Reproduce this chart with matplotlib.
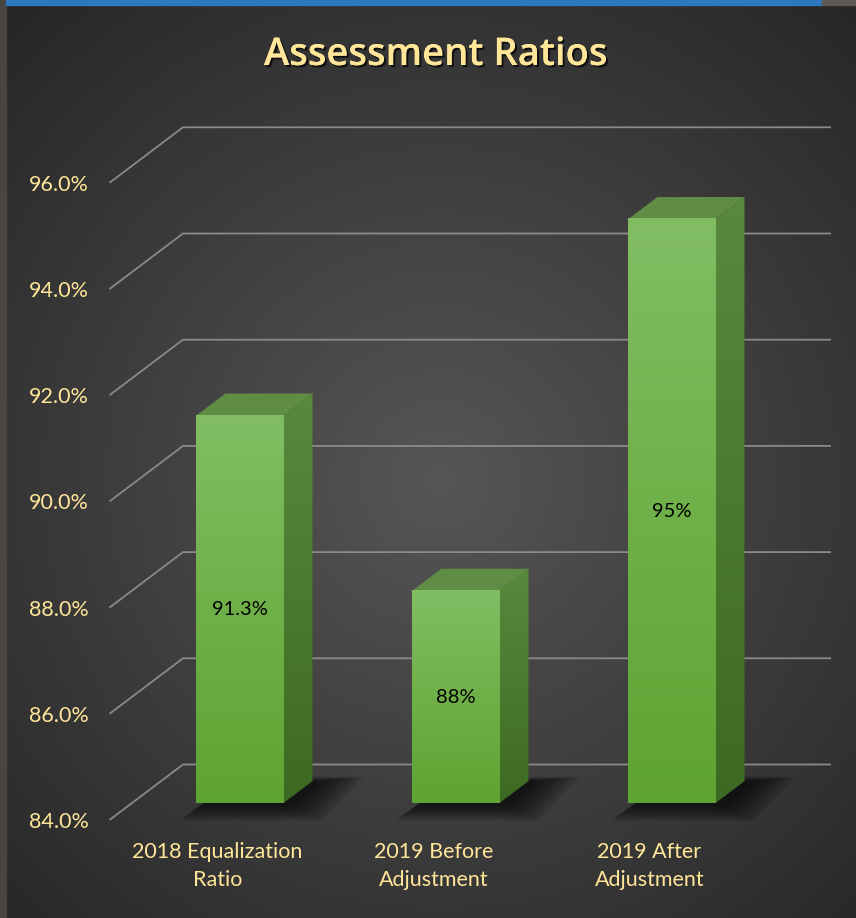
import numpy as np
import matplotlib
matplotlib.use('Agg')
import matplotlib.pyplot as plt
import matplotlib.patheffects as pe
from matplotlib.patches import Polygon, Rectangle
from matplotlib.colors import LinearSegmentedColormap

plt.rcParams['font.family'] = ['Lato', 'DejaVu Sans']

categories = ['2018 Equalization\nRatio', '2019 Before\nAdjustment', '2019 After\nAdjustment']
values = [91.3, 88.0, 95.0]
value_labels = ['91.3%', '88%', '95%']
y_ticks = [84, 86, 88, 90, 92, 94, 96]
y_tick_labels = ['84.0%', '86.0%', '88.0%', '90.0%', '92.0%', '94.0%', '96.0%']

TXT = '#FFE699'
GRID = '#8a8a8a'

# depth of the fake 3d box, in data units (category, percent)
DXc = 73.5 / 216
DYv = 55.5 / 53.1
W = 0.403          # bar width
D0, D1 = 0.3, 0.7  # bar depth span (0 = front, 1 = back wall)


def pt(x, y, d):
    return (x + d * DXc, y + d * DYv)


fig = plt.figure(figsize=(8.56, 9.18), dpi=100)

# radial gradient background
bg = fig.add_axes([0, 0, 1, 1])
yy, xx = np.mgrid[0:918, 0:856]
r = np.sqrt((xx - 440) ** 2 + (yy - 480) ** 2) / 640
c = 0x56 - (0x56 - 0x26) * np.clip(r, 0, 1)
img = np.dstack([c, c, c]) / 255
bg.imshow(img, extent=(0, 1, 0, 1), aspect='auto', origin='upper')
bg.axis('off')

# frame bits at the top/left edge
fig.patches.append(Rectangle((0, 0), 6 / 856, 1, transform=fig.transFigure, color='#4a4540', zorder=5))
fig.patches.append(Rectangle((6 / 856, 1 - 5 / 918), 816 / 856, 5 / 918, transform=fig.transFigure,
                             color='#2e78c0', zorder=5))
fig.patches.append(Rectangle((822 / 856, 1 - 5 / 918), 34 / 856, 5 / 918, transform=fig.transFigure,
                             color='#5f5a55', zorder=5))

ax = fig.add_axes([109.5 / 856, 98 / 918, 648 / 856, 637.2 / 918])
ax.set_facecolor('none')
for s in ax.spines.values():
    s.set_visible(False)

x_lo, x_hi = -0.5, 2.5

# grid: side diagonal + back wall line
for t in y_ticks:
    a = pt(x_lo, t, 0)
    b = pt(x_lo, t, 1)
    e = pt(x_hi, t, 1)
    ax.plot([a[0], b[0], e[0]], [a[1], b[1], e[1]], color=GRID, lw=1.3,
            clip_on=False, zorder=1, solid_capstyle='butt')

front_cmap = LinearSegmentedColormap.from_list('front', ['#5fa332', '#70b048', '#82bd64'])
side_cmap = LinearSegmentedColormap.from_list('side', ['#3d6a22', '#4a7a2f', '#58893d'])
base = y_ticks[0]

for i, v in enumerate(values):
    xl = i - W / 2
    xr = i + W / 2

    # soft shadow on the floor
    for k in range(10):
        g = 0.009 * k
        sh = [pt(xl + 0.03 - g, base - 0.04 - g * 2.5, D0 - g),
              pt(xr + 0.05 + g * 2, base - 0.04 - g * 2.5, D0 - g),
              pt(xr + 0.05 + g * 2, base, D1 + g),
              pt(xl + 0.03, base, D1 + g)]
        ax.add_patch(Polygon(sh, closed=True, color='black', alpha=0.09, lw=0,
                             zorder=2, clip_on=False))

    # side face
    side = [pt(xr, base, D0), pt(xr, v, D0), pt(xr, v, D1), pt(xr, base, D1)]
    sp = Polygon(side, closed=True, facecolor='none', lw=0, zorder=3, clip_on=False)
    ax.add_patch(sp)
    sx = [p[0] for p in side]
    sy = [p[1] for p in side]
    im = ax.imshow(np.linspace(0, 1, 256).reshape(-1, 1), cmap=side_cmap, origin='lower',
                   extent=(min(sx), max(sx), min(sy), max(sy)), aspect='auto', zorder=3)
    im.set_clip_path(sp)

    # top face
    top = [pt(xl, v, D0), pt(xr, v, D0), pt(xr, v, D1), pt(xl, v, D1)]
    ax.add_patch(Polygon(top, closed=True, facecolor='#5f8d46', lw=0, zorder=3, clip_on=False))

    # front face
    fx0, fy0 = pt(xl, base, D0)
    fx1, fy1 = pt(xr, v, D0)
    ax.imshow(np.linspace(0, 1, 256).reshape(-1, 1), cmap=front_cmap, origin='lower',
              extent=(fx0, fx1, fy0, fy1), aspect='auto', zorder=4)

    cx, cy = pt(i, (base + v) / 2, D0)
    ax.text(cx, cy, value_labels[i], ha='center', va='center', fontsize=14.5,
            color='black', zorder=6)

ax.set_xlim(x_lo, x_hi)
ax.set_ylim(84, 96)
ax.set_xticks(range(len(categories)), categories)
ax.set_yticks(y_ticks, y_tick_labels)
ax.tick_params(length=0, colors=TXT, labelsize=15.5)
ax.tick_params(axis='y', pad=15)
ax.tick_params(axis='x', pad=16)
for lab in ax.get_xticklabels():
    lab.set_linespacing(1.5)

fig.text(436 / 856, 1 - 55 / 918, 'Assessment Ratios', ha='center', va='center',
         fontsize=27.5, fontweight='semibold', color=TXT, family=['Open Sans', 'DejaVu Sans'],
         path_effects=[pe.withSimplePatchShadow(offset=(1.5, -1.5), shadow_rgbFace='black', alpha=0.7),
                       pe.Normal()])

fig.savefig('out.png', dpi=100)
